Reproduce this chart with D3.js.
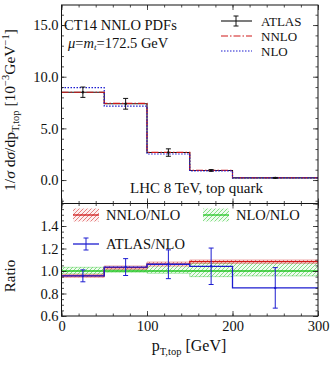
<!DOCTYPE html>
<html>
<head>
<meta charset="utf-8">
<script src="https://cdn.jsdelivr.net/npm/d3@7"></script>
<style>
  body { margin: 0; background: #fff; }
  svg text { font-family: "Liberation Serif", "DejaVu Serif", serif; fill: #111; }
  .axis .domain { display: none; }
  .axis line { stroke: #222; stroke-width: 0.8; }
</style>
</head>
<body>
<div id="chart"></div>
<script>
/* bin edges of p_T,top [GeV] */
const edges = [0, 50, 100, 150, 200, 300];

/* normalised distribution, 10^-3 GeV^-1 */
const atlasVal = [8.5, 7.38, 2.66, 0.93, 0.21];
const atlasErr = [0.5, 0.52, 0.36, 0.08, 0.04];
const nnloVal = [8.49, 7.42, 2.68, 0.94, 0.22];
const nloVal = [8.94, 7.16, 2.52, 0.88, 0.205];

/* ratios to NLO */
const nnloRatio = [0.957, 1.03, 1.062, 1.083, 1.083];
const nnloLo = [0.944, 1.015, 1.044, 1.068, 1.068];
const nnloHi = [0.970, 1.045, 1.080, 1.098, 1.098];
const nloRatio = [1.0, 1.0, 1.0, 1.0, 1.0];
const nloLo = [0.973, 0.99, 0.98, 0.95, 0.956];
const nloHi = [1.033, 1.015, 1.05, 1.068, 1.074];
const atlasRatio = [0.957, 1.035, 1.06, 1.042, 0.85];
const atlasRatioErr = [0.053, 0.075, 0.128, 0.162, 0.18];

const mainTicks = [0, 5, 10, 15];
const ratioTicks = [0.6, 0.8, 1.0, 1.2, 1.4];
const xTicks = [0, 100, 200, 300];

const RED = '#d01818', BLUE = '#1c1cd0', GREEN = '#22c422';
const FS = 14.5;

const W = 332, H = 367;
const mLeft = 61.5, mRight = 318, mTop = 5, mMid = 203.5, mBottom = 316;

const svg = d3.select('#chart').append('svg')
    .attr('width', W).attr('height', H);

/* hatch patterns for the bands */
const defs = svg.append('defs');
function hatch(id, col, bg) {
    const p = defs.append('pattern').attr('id', id)
        .attr('patternUnits', 'userSpaceOnUse')
        .attr('width', 4).attr('height', 4);
    p.append('rect').attr('width', 4).attr('height', 4).attr('fill', bg);
    p.append('path').attr('d', 'M-1,1 l2,-2 M0,4 l4,-4 M3,5 l2,-2')
        .attr('stroke', col).attr('stroke-width', 0.7).attr('stroke-opacity', 0.75);
}
hatch('hatchRed', RED, '#fdf0f0');
hatch('hatchGreen', GREEN, '#f0fbf0');

const x = d3.scaleLinear().domain([0, 300]).range([mLeft, mRight]);
const y = d3.scaleLinear().domain([-2.27, 16.94]).range([mMid, mTop]);
const yr = d3.scaleLinear().domain([0.6, 1.6]).range([mBottom, mMid]);

const centers = edges.slice(0, -1).map((e, i) => (e + edges[i + 1]) / 2);

/* step helpers: one point per edge, last bin repeated */
const stepPts = vals => edges.map((e, i) => [e, vals[Math.min(i, vals.length - 1)]]);

function stepLine(ys) {
    return d3.line().curve(d3.curveStepAfter).x(d => x(d[0])).y(d => ys(d[1]));
}
function stepArea(ys, lo, hi) {
    return d3.area().curve(d3.curveStepAfter)
        .x((d, i) => x(edges[i]))
        .y0((d, i) => ys(lo[Math.min(i, lo.length - 1)]))
        .y1((d, i) => ys(hi[Math.min(i, hi.length - 1)]));
}

/* clip paths */
defs.append('clipPath').attr('id', 'clipTop').append('rect')
    .attr('x', mLeft).attr('y', mTop).attr('width', mRight - mLeft).attr('height', mMid - mTop);
defs.append('clipPath').attr('id', 'clipBot').append('rect')
    .attr('x', mLeft).attr('y', mMid).attr('width', mRight - mLeft).attr('height', mBottom - mMid);

/* ---------- top panel ---------- */
const gTop = svg.append('g').attr('clip-path', 'url(#clipTop)');

gTop.append('path').attr('d', stepLine(y)(stepPts(atlasVal)))
    .attr('fill', 'none').attr('stroke', '#111').attr('stroke-width', 1.1);
gTop.append('path').attr('d', stepLine(y)(stepPts(nnloVal)))
    .attr('fill', 'none').attr('stroke', RED).attr('stroke-width', 1.1)
    .attr('stroke-dasharray', '7,2,1.5,2');
gTop.append('path').attr('d', stepLine(y)(stepPts(nloVal)))
    .attr('fill', 'none').attr('stroke', BLUE).attr('stroke-width', 1.2)
    .attr('stroke-dasharray', '1.5,1.5');

function errorBars(g, ys, vals, errs, col) {
    const eb = g.append('g');
    vals.forEach((v, i) => {
        const cx = x(centers[i]);
        eb.append('line').attr('x1', cx).attr('x2', cx)
            .attr('y1', ys(v - errs[i])).attr('y2', ys(v + errs[i]))
            .attr('stroke', col).attr('stroke-width', 1);
        [v - errs[i], v + errs[i]].forEach(e => {
            eb.append('line').attr('x1', cx - 2.5).attr('x2', cx + 2.5)
                .attr('y1', ys(e)).attr('y2', ys(e))
                .attr('stroke', col).attr('stroke-width', 1);
        });
        eb.append('circle').attr('cx', cx).attr('cy', ys(v)).attr('r', 1.2).attr('fill', col);
    });
}
errorBars(gTop, y, atlasVal, atlasErr, '#111');

/* ---------- ratio panel ---------- */
const gBot = svg.append('g').attr('clip-path', 'url(#clipBot)');

function band(lo, hi, central, pat, col) {
    gBot.append('path').attr('d', stepArea(yr, lo, hi)(edges))
        .attr('fill', `url(#${pat})`).attr('stroke', 'none');
    [lo, hi].forEach(b => {
        gBot.append('path').attr('d', stepLine(yr)(stepPts(b)))
            .attr('fill', 'none').attr('stroke', col).attr('stroke-width', 0.6)
            .attr('stroke-opacity', 0.6);
    });
    gBot.append('path').attr('d', stepLine(yr)(stepPts(central)))
        .attr('fill', 'none').attr('stroke', col).attr('stroke-width', 1.3);
}
band(nloLo, nloHi, nloRatio, 'hatchGreen', GREEN);
band(nnloLo, nnloHi, nnloRatio, 'hatchRed', RED);

gBot.append('path').attr('d', stepLine(yr)(stepPts(atlasRatio)))
    .attr('fill', 'none').attr('stroke', BLUE).attr('stroke-width', 1.3);
errorBars(gBot, yr, atlasRatio, atlasRatioErr, BLUE);

/* ---------- frames and ticks ---------- */
function frame(y0, y1) {
    svg.append('rect').attr('x', mLeft).attr('y', y0)
        .attr('width', mRight - mLeft).attr('height', y1 - y0)
        .attr('fill', 'none').attr('stroke', '#111').attr('stroke-width', 1);
}
frame(mTop, mMid);
frame(mMid, mBottom);

function ticks(axisFn, scale, pos, major, minor, fmt) {
    svg.append('g').attr('class', 'axis').attr('transform', pos)
        .call(axisFn(scale).tickValues(minor).tickSize(-2.5).tickFormat(''));
    const majorG = svg.append('g').attr('class', 'axis').attr('transform', pos)
        .call(axisFn(scale).tickValues(major).tickSize(-5).tickPadding(3)
            .tickFormat(fmt || ''));
    majorG.selectAll('text').attr('font-size', FS)
        .attr('font-family', '"Liberation Serif", serif').attr('fill', '#111');
    return majorG;
}

const xMinor = d3.range(0, 301, 20);
const yMinor = d3.range(-2, 17, 1);
const rMinor = d3.range(0.6, 1.6001, 0.05);

/* top panel */
ticks(d3.axisTop, x, `translate(0,${mTop})`, xTicks, xMinor);
ticks(d3.axisBottom, x, `translate(0,${mMid})`, xTicks, xMinor);
ticks(d3.axisLeft, y, `translate(${mLeft},0)`, mainTicks, yMinor, d3.format('.1f'));
ticks(d3.axisRight, y, `translate(${mRight},0)`, mainTicks, yMinor);

/* ratio panel */
ticks(d3.axisTop, x, `translate(0,${mMid})`, xTicks, xMinor);
const xb = ticks(d3.axisBottom, x, `translate(0,${mBottom})`, xTicks, xMinor, d3.format('d'));
xb.selectAll('text').attr('dy', '0.8em');
ticks(d3.axisLeft, yr, `translate(${mLeft},0)`, ratioTicks, rMinor, d3.format('.1f'));
ticks(d3.axisRight, yr, `translate(${mRight},0)`, ratioTicks.concat([1.6]), rMinor);

/* ---------- labels ---------- */
const yl = svg.append('text').attr('transform', 'translate(15,110) rotate(-90)')
    .attr('text-anchor', 'middle').attr('font-size', 15.5);
yl.append('tspan').text('1/');
yl.append('tspan').attr('font-style', 'italic').text('σ');
yl.append('tspan').text(' d');
yl.append('tspan').attr('font-style', 'italic').text('σ');
yl.append('tspan').text('/dp');
yl.append('tspan').attr('font-size', 10.5).attr('dy', 3.5).text('T,top');
yl.append('tspan').attr('dy', -3.5).text(' [10');
yl.append('tspan').attr('font-size', 10.5).attr('dy', -6).text('−3');
yl.append('tspan').attr('dy', 6).text('GeV');
yl.append('tspan').attr('font-size', 10.5).attr('dy', -6).text('−1');
yl.append('tspan').attr('dy', 6).text(']');

svg.append('text').attr('transform', 'translate(15,276) rotate(-90)')
    .attr('text-anchor', 'middle').attr('font-size', 15).text('Ratio');

const xl = svg.append('text').attr('x', 189).attr('y', 351)
    .attr('text-anchor', 'middle').attr('font-size', 16);
xl.append('tspan').text('p');
xl.append('tspan').attr('font-size', 10.5).attr('dy', 3.5).text('T,top');
xl.append('tspan').attr('dy', -3.5).text(' [GeV]');

svg.append('text').attr('x', 64).attr('y', 30).attr('font-size', FS).text('CT14 NNLO PDFs');
const mu = svg.append('text').attr('x', 68).attr('y', 47.5).attr('font-size', FS);
mu.append('tspan').attr('font-style', 'italic').text('μ');
mu.append('tspan').text('=');
mu.append('tspan').attr('font-style', 'italic').text('m');
mu.append('tspan').attr('font-style', 'italic').attr('font-size', 9).attr('dy', 2.5).text('t');
mu.append('tspan').attr('dy', -2.5).text('=172.5 GeV');

svg.append('text').attr('x', 130).attr('y', 193).attr('font-size', 15).text('LHC 8 TeV, top quark');

/* top legend */
const leg = [
    { label: 'ATLAS', col: '#111', dash: null, y: 21 },
    { label: 'NNLO', col: RED, dash: '7,2,1.5,2', y: 36 },
    { label: 'NLO', col: BLUE, dash: '1.5,1.5', y: 51 }
];
leg.forEach(d => {
    svg.append('line').attr('x1', 221).attr('x2', 252).attr('y1', d.y).attr('y2', d.y)
        .attr('stroke', d.col).attr('stroke-width', 1.1)
        .attr('stroke-dasharray', d.dash);
    svg.append('text').attr('x', 261).attr('y', d.y + 4.5).attr('font-size', 13).text(d.label);
});
[[236, 16, 26]].forEach(([cx, a, b]) => {
    svg.append('line').attr('x1', cx).attr('x2', cx).attr('y1', a).attr('y2', b).attr('stroke', '#111');
    svg.append('line').attr('x1', cx - 2.5).attr('x2', cx + 2.5).attr('y1', a).attr('y2', a).attr('stroke', '#111');
    svg.append('line').attr('x1', cx - 2.5).attr('x2', cx + 2.5).attr('y1', b).attr('y2', b).attr('stroke', '#111');
});

/* ratio legend */
function bandKey(x0, yc, pat, col, label) {
    svg.append('rect').attr('x', x0).attr('y', yc - 6.5).attr('width', 26).attr('height', 13)
        .attr('fill', `url(#${pat})`);
    svg.append('line').attr('x1', x0).attr('x2', x0 + 26).attr('y1', yc).attr('y2', yc)
        .attr('stroke', col).attr('stroke-width', 1.3);
    svg.append('text').attr('x', x0 + 33).attr('y', yc + 5).attr('font-size', FS).text(label);
}
bandKey(73, 215, 'hatchRed', RED, 'NNLO/NLO');
bandKey(203, 215, 'hatchGreen', GREEN, 'NLO/NLO');

svg.append('line').attr('x1', 73).attr('x2', 99).attr('y1', 244).attr('y2', 244)
    .attr('stroke', BLUE).attr('stroke-width', 1.3);
svg.append('line').attr('x1', 86).attr('x2', 86).attr('y1', 238).attr('y2', 250).attr('stroke', BLUE);
svg.append('line').attr('x1', 83.5).attr('x2', 88.5).attr('y1', 238).attr('y2', 238).attr('stroke', BLUE);
svg.append('line').attr('x1', 83.5).attr('x2', 88.5).attr('y1', 250).attr('y2', 250).attr('stroke', BLUE);
svg.append('text').attr('x', 106).attr('y', 249).attr('font-size', FS).text('ATLAS/NLO');
</script>
</body>
</html>
